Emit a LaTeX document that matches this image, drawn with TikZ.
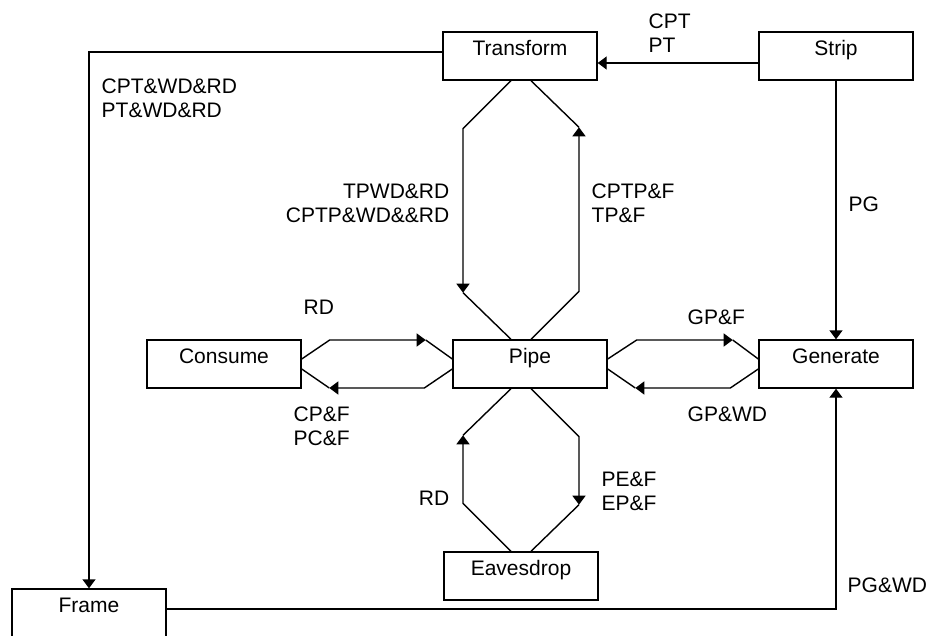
\documentclass[tikz,border=0pt]{standalone}
\usepackage{fontspec}
\setmainfont{Liberation Sans}
\usetikzlibrary{arrows.meta}

\begin{document}
\begin{tikzpicture}[x=1pt, y=-1pt, line width=1.4pt,
    every node/.style={font=\fontsize{21}{24}\selectfont},
    box/.style={draw, minimum width=154pt, minimum height=48pt, inner sep=0pt, text height=15pt, text depth=16pt},
    lbl/.style={inner sep=0pt, align=left, anchor=north west},
    lblr/.style={inner sep=0pt, align=right, anchor=north east},
    tip/.style={-{Triangle[length=9pt,width=13pt]}}]
\useasboundingbox (0,0) rectangle (936,636);
\clip (0,0) rectangle (936,636);

\node[box] (transform) at (520,56) {Transform};
\node[box] (strip) at (836,56) {Strip};
\node[box] (consume) at (224,364) {Consume};
\node[box] (pipe) at (530,364) {Pipe};
\node[box] (generate) at (836,364) {Generate};
\node[box] (eavesdrop) at (521,576) {Eavesdrop};
\node[box] (frame) at (89,613) {Frame};

\draw[tip] ([yshift=-7pt]strip.west) -- ([yshift=-7pt]transform.east);
\draw[tip] ([yshift=4pt]transform.west) -| (frame.north);
\draw[tip] (strip.south) -- (generate.north);
\draw[tip] ([yshift=4pt]frame.east) -| (generate.south);

\draw[tip] ([xshift=-9pt]transform.south) -- ++(-48,48) -- ++(0,164) coordinate (tp);
\draw (tp) -- ([xshift=-19pt]pipe.north);
\draw[tip] ([xshift=1pt]pipe.north) -- ++(48,-48) -- ++(0,-164) coordinate (pt);
\draw (pt) -- ([xshift=11pt]transform.south);

\draw[tip] ([xshift=-10pt]eavesdrop.north) -- ++(-48,-48) -- ++(0,-68) coordinate (ep);
\draw (ep) -- ([xshift=-19pt]pipe.south);
\draw[tip] ([xshift=1pt]pipe.south) -- ++(48,48) -- ++(0,68) coordinate (pe);
\draw (pe) -- ([xshift=10pt]eavesdrop.north);

\draw[tip] ([yshift=5pt]consume.east) -- ++(28,-19) -- ++(96,0) coordinate (cp);
\draw (cp) -- ([yshift=5pt]pipe.west);
\draw[tip] ([yshift=-5pt]pipe.west) -- ++(-28,19) -- ++(-95,0) coordinate (pc);
\draw (pc) -- ([yshift=-5pt]consume.east);

\draw[tip] ([yshift=5pt]pipe.east) -- ++(29,-19) -- ++(96,0) coordinate (pg);
\draw (pg) -- ([yshift=5pt]generate.west);
\draw[tip] ([yshift=-5pt]generate.west) -- ++(-28,19) -- ++(-95,0) coordinate (gp);
\draw (gp) -- ([yshift=-5pt]pipe.east);

\node[lbl] (stlbl) at (648,13.5) {CPT\\PT};
\node[lbl] (tflbl) at (101,78.5) {CPT\&WD\&RD\\PT\&WD\&RD};
\node[lblr] (tplbl) at (450,183.5) {TPWD\&RD\\CPTP\&WD\&\&RD};
\node[lbl] (ptlbl) at (591,183.5) {CPTP\&F\\TP\&F};
\node[lbl] (sglbl) at (848,196.5) {PG};
\node[lbl] (cplbl) at (303,299.5) {RD};
\node[lbl] (pglbl) at (687,309.5) {GP\&F};
\node[lbl] (pclbl) at (293,406.5) {CP\&F\\PC\&F};
\node[lbl] (gplbl) at (687,406.5) {GP\&WD};
\node[lblr] (eplbl) at (450,490.5) {RD};
\node[lbl] (pelbl) at (601,471.5) {PE\&F\\EP\&F};
\node[lbl] (fglbl) at (847,577.5) {PG\&WD};
\end{tikzpicture}
\end{document}
